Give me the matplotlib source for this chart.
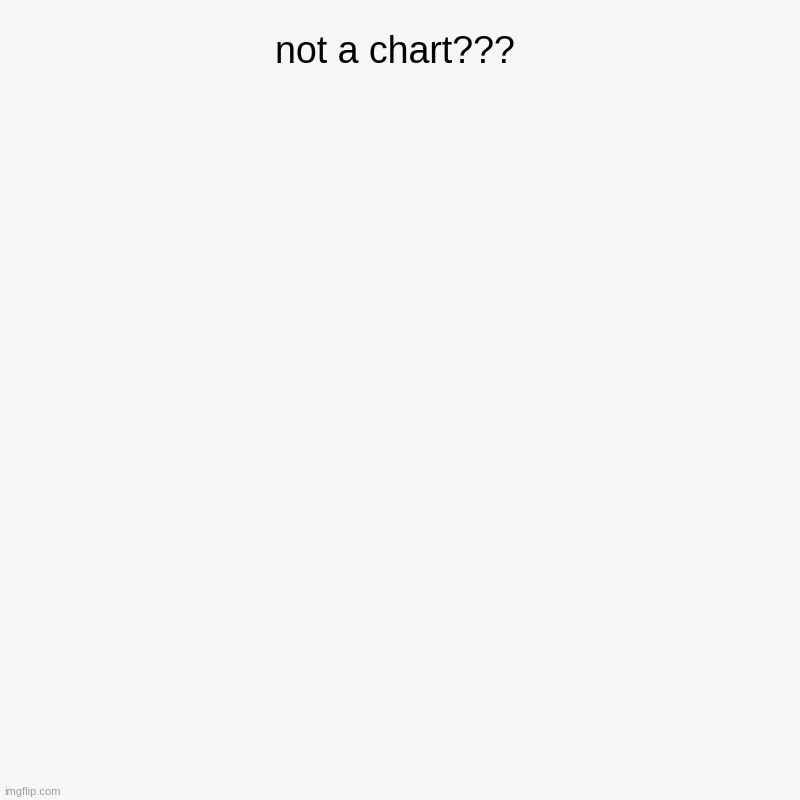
import matplotlib
matplotlib.use("Agg")
import matplotlib.pyplot as plt

# The reference has no data marks at all, only a title and a watermark
categories = []
values = []
title_text = "not a chart???"
watermark_text = "imgflip.com"

plt.rcParams['font.family'] = ['Liberation Sans', 'DejaVu Sans']

fig = plt.figure(figsize=(8, 8), dpi=100)
fig.patch.set_facecolor('#f7f7f7')
ax = fig.add_axes([0.02, 0.02, 0.96, 0.85])
ax.set_facecolor('#f7f7f7')
if categories:
    ax.bar(categories, values)
ax.axis('off')

fig.text(0.494, 1 - 63 / 800, title_text, ha='center', va='baseline',
         fontsize=27, color='#000000')
fig.text(4 / 800, 1 - 795 / 800, watermark_text, ha='left', va='baseline',
         fontsize=8, color='#a0a0a0')

fig.savefig('out.png', dpi=100, facecolor=fig.get_facecolor())
